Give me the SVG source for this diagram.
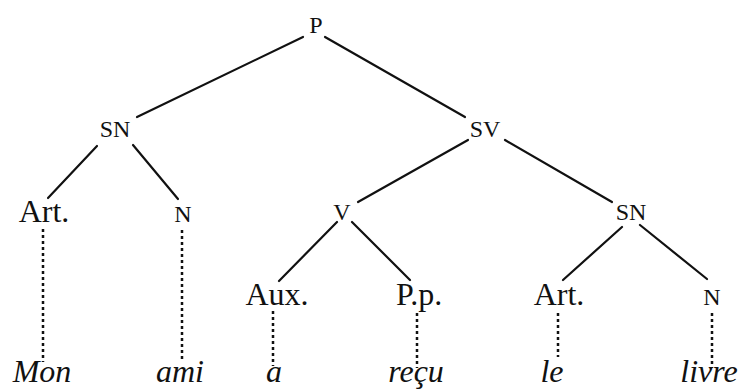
<svg xmlns="http://www.w3.org/2000/svg" width="741" height="390" viewBox="0 0 741 390">
<style>
.lbl{font-family:"Liberation Serif","Times New Roman",serif;font-size:32px;fill:#111111;text-anchor:middle}
.sc{font-family:"Liberation Serif","Times New Roman",serif;font-size:24px;fill:#111111;text-anchor:middle}
.w{font-family:"Liberation Serif","Times New Roman",serif;font-size:32px;font-style:italic;fill:#111111;text-anchor:middle}
.e{stroke:#111111;stroke-width:2.2;fill:none;stroke-linecap:round}
.d{stroke:#111111;stroke-width:2.5;fill:none;stroke-dasharray:3 3}
</style>
<rect width="741" height="390" fill="#ffffff"/>
<g id="connectors">
<line class="e" x1="303" y1="37" x2="137" y2="117"/>
<line class="e" x1="325" y1="37" x2="465" y2="117"/>
<line class="e" x1="97" y1="146" x2="48" y2="198"/>
<line class="e" x1="133" y1="145" x2="178" y2="199"/>
<line class="e" x1="468" y1="140" x2="358" y2="202"/>
<line class="e" x1="505" y1="140" x2="612" y2="202"/>
<line class="e" x1="337" y1="222" x2="279" y2="281"/>
<line class="e" x1="352" y1="222" x2="410" y2="280"/>
<line class="e" x1="622" y1="227" x2="563" y2="280"/>
<line class="e" x1="640" y1="225" x2="707" y2="279"/>
<line class="d" x1="43" y1="229" x2="43" y2="362"/>
<line class="d" x1="182" y1="230" x2="182" y2="362"/>
<line class="d" x1="273" y1="311" x2="273" y2="366"/>
<line class="d" x1="417" y1="313" x2="417" y2="368"/>
<line class="d" x1="558" y1="313" x2="558" y2="357"/>
<line class="d" x1="712" y1="313" x2="712" y2="368"/>
</g>
<g id="P"><text class="sc" x="316" y="33">P</text></g>
<g id="SN1"><text class="sc" x="115" y="137">SN</text></g>
<g id="SV"><text class="sc" x="485" y="137">SV</text></g>
<g id="Art1"><text class="lbl" x="44" y="222">Art.</text></g>
<g id="N1"><text class="sc" x="183" y="222">N</text></g>
<g id="V"><text class="sc" x="342" y="220">V</text></g>
<g id="SN2"><text class="sc" x="631" y="220">SN</text></g>
<g id="Aux"><text class="lbl" x="277" y="305">Aux.</text></g>
<g id="Pp"><text class="lbl" x="419" y="305">P.p.</text></g>
<g id="Art2"><text class="lbl" x="559" y="305">Art.</text></g>
<g id="N2"><text class="sc" x="712" y="305">N</text></g>
<g id="Mon"><text class="w" x="42" y="382">Mon</text></g>
<g id="ami"><text class="w" x="180" y="382">ami</text></g>
<g id="a"><text class="w" x="274" y="382">a</text></g>
<g id="recu"><text class="w" x="416" y="382">reçu</text></g>
<g id="le"><text class="w" x="552" y="382">le</text></g>
<g id="livre"><text class="w" x="709" y="382">livre</text></g>
</svg>
